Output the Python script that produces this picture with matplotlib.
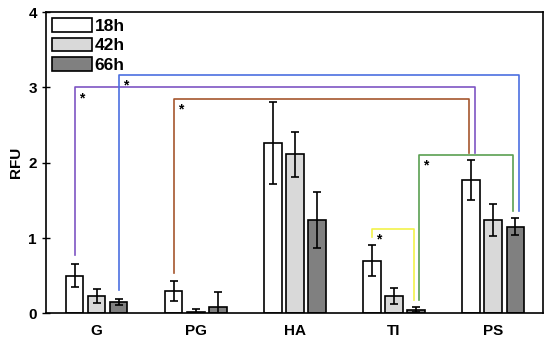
import matplotlib.pyplot as plt
import numpy as np

plt.rcParams['font.family'] = ['Liberation Sans', 'DejaVu Sans']
plt.rcParams['font.weight'] = 'bold'

groups = ['G', 'PG', 'HA', 'TI', 'PS']
series = ['18h', '42h', '66h']
colors = ['white', '#d9d9d9', '#808080']

v18 = [0.50, 0.30, 2.26, 0.70, 1.77]
e18 = [0.15, 0.13, 0.54, 0.21, 0.26]
v42 = [0.23, 0.02, 2.11, 0.23, 1.24]
e42 = [0.09, 0.04, 0.30, 0.11, 0.21]
v66 = [0.15, 0.09, 1.24, 0.05, 1.15]
e66 = [0.04, 0.20, 0.37, 0.03, 0.11]

# significance brackets: (group, bar, y start) -> (group, bar, y end), top y, colour
brackets = [
    ((0, 0, 0.77), (4, 0, 2.13), 3.00, '#7e55c4'),
    ((0, 2, 0.31), (4, 2, 1.36), 3.17, '#4c6fe0'),
    ((1, 0, 0.54), (4, 0, 2.13), 2.85, '#a5562e'),
    ((3, 2, 0.18), (4, 2, 1.36), 2.10, '#5aa052'),
    ((3, 0, 1.02), (3, 2, 0.18), 1.12, '#f2f24a'),
]
# small sideways nudges of the bracket ends (left, right) so they don't overlap
nudges = [(0.005, 0.04), (0.0, 0.035), (0.0, -0.02), (0.03, -0.025), (0.0, -0.02)]

fig = plt.figure(figsize=(5.5, 3.44), dpi=100)
ax = fig.add_axes([0.0836, 0.089, 0.9034, 0.876])

x = np.arange(len(groups))
w = 0.177
off = 0.222
vals = [v18, v42, v66]
errs = [e18, e42, e66]
for i in range(3):
    ax.bar(x + (i - 1) * off, vals[i], w, color=colors[i], edgecolor='black',
           linewidth=1.2, label=series[i], zorder=2)
    ax.errorbar(x + (i - 1) * off, vals[i], yerr=errs[i], fmt='none',
                ecolor='black', elinewidth=1.2, capsize=3, capthick=1.2, zorder=3)

for ((g1, b1, y1), (g2, b2, y2), top, c), (n1, n2) in zip(brackets, nudges):
    xa = g1 + (b1 - 1) * off + n1
    xb = g2 + (b2 - 1) * off + n2
    ax.plot([xa, xa, xb, xb], [y1, top, top, y2], color=c, linewidth=1.2, zorder=1)
    ax.text(xa + 0.04, top - 0.05, '*', fontsize=10, ha='left', va='top')

ax.set_xlim(-0.51, 4.5)
ax.set_ylim(0, 4)
ax.set_xticks(x)
ax.set_xticklabels(groups, fontsize=11, fontweight='bold')
ax.set_yticks([0, 1, 2, 3, 4])
ax.set_yticklabels(['0', '1', '2', '3', '4'], fontsize=11, fontweight='bold')
ax.tick_params(axis='x', length=0, pad=8)
ax.tick_params(axis='y', direction='inout', length=6, width=1)
ax.set_ylabel('RFU', fontsize=11, fontweight='bold', labelpad=4)
for s in ax.spines.values():
    s.set_linewidth(1.2)

ax.legend(loc='upper left', frameon=False, fontsize=12.5, handlelength=2.3,
          handleheight=0.85, handletextpad=0.15, labelspacing=0.2,
          borderaxespad=0.2, borderpad=0.15)

fig.savefig('out.png', dpi=100)
